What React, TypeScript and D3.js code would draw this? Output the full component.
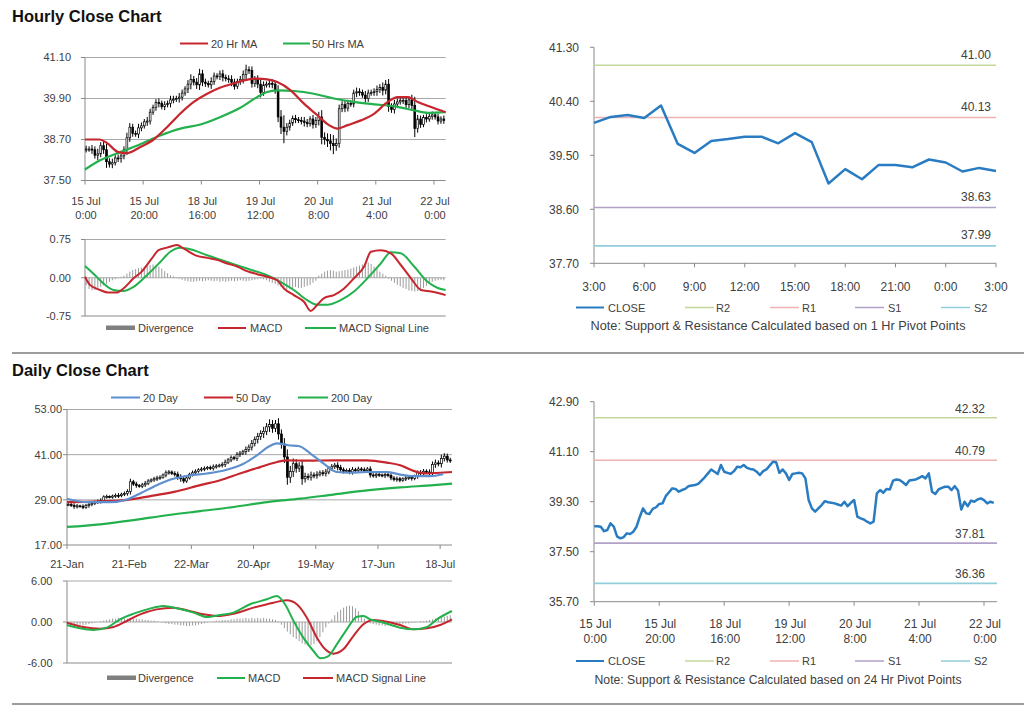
import React from 'react';
import * as d3 from 'd3';

// ---------------- DATA ----------------
const hourlyTickIdx = [0, 20, 40, 60, 80, 100, 120];
const hourlyTickDate = ['15 Jul', '15 Jul', '18 Jul', '19 Jul', '20 Jul', '21 Jul', '22 Jul'];
const hourlyTickTime = ['0:00', '20:00', '16:00', '12:00', '8:00', '4:00', '0:00'];

const hourlyClose = [
  38.42, 38.42, 38.40, 38.24, 38.28, 38.52, 38.40, 38.05, 37.98, 38.02,
  38.16, 38.14, 38.22, 38.40, 38.75, 39.06, 38.88, 38.86, 39.04, 39.10,
  39.22, 39.24, 39.50, 39.64, 39.78, 39.76, 39.66, 39.72, 39.76, 39.86,
  39.88, 39.90, 39.94, 40.06, 40.18, 40.32, 40.46, 40.38, 40.30, 40.62,
  40.38, 40.34, 40.30, 40.40, 40.56, 40.54, 40.62, 40.52, 40.48, 40.46,
  40.38, 40.26, 40.40, 40.46, 40.60, 40.74, 40.72, 40.34, 40.46, 40.32,
  40.08, 40.30, 40.32, 40.34, 40.32, 40.14, 39.36, 39.06, 38.94, 39.06,
  39.18, 39.32, 39.28, 39.26, 39.24, 39.20, 39.16, 39.30, 39.14, 39.26,
  39.36, 38.76, 38.70, 38.66, 38.58, 38.52, 38.58, 39.60, 39.72, 39.62,
  39.76, 39.74, 40.06, 40.10, 40.08, 40.00, 39.90, 40.06, 40.08, 40.10,
  40.16, 40.22, 40.14, 40.32, 39.66, 39.58, 39.74, 39.80, 39.84, 39.84,
  39.72, 39.86, 39.70, 39.02, 39.30, 39.14, 39.34, 39.30, 39.38, 39.42,
  39.36, 39.24, 39.30, 39.26,
];
const hourlyWick = [
  0.10, 0.08, 0.12, 0.10, 0.15, 0.10, 0.12, 0.18, 0.10, 0.12,
  0.08, 0.10, 0.12, 0.10, 0.15, 0.12, 0.10, 0.08, 0.12, 0.10,
  0.08, 0.12, 0.10, 0.08, 0.10, 0.12, 0.08, 0.10, 0.08, 0.12,
  0.10, 0.08, 0.12, 0.10, 0.08, 0.12, 0.15, 0.10, 0.12, 0.15,
  0.12, 0.10, 0.08, 0.12, 0.10, 0.08, 0.10, 0.12, 0.08, 0.10,
  0.12, 0.10, 0.08, 0.10, 0.12, 0.15, 0.10, 0.12, 0.10, 0.12,
  0.15, 0.10, 0.08, 0.10, 0.12, 0.10, 0.15, 0.20, 0.35, 0.12,
  0.10, 0.08, 0.10, 0.08, 0.10, 0.12, 0.10, 0.08, 0.12, 0.10,
  0.15, 0.20, 0.15, 0.18, 0.20, 0.25, 0.15, 0.12, 0.10, 0.12,
  0.10, 0.08, 0.10, 0.12, 0.10, 0.08, 0.12, 0.10, 0.08, 0.10,
  0.12, 0.10, 0.15, 0.12, 0.15, 0.10, 0.12, 0.10, 0.08, 0.10,
  0.12, 0.10, 0.15, 0.25, 0.12, 0.10, 0.08, 0.10, 0.08, 0.10,
  0.08, 0.10, 0.08, 0.10,
];
const hourlyMA20 = [
  [0, 38.70], [5, 38.70], [7.5, 38.60], [11.5, 38.33], [14.4, 38.30], [19, 38.48], [23.6, 38.70],
  [28.2, 39.06], [32.8, 39.46], [37.4, 39.80], [42, 40.04], [46.6, 40.22], [51.1, 40.34], [56.3, 40.46],
  [59.2, 40.48], [62.6, 40.46], [66.1, 40.38], [70.7, 40.14], [75.3, 39.75], [79.9, 39.41], [83.9, 39.12],
  [86.8, 39.02], [90.3, 39.12], [94.9, 39.26], [99.5, 39.46], [104.1, 39.80], [107.5, 39.94], [111, 39.94],
  [114.4, 39.80], [119, 39.65], [124, 39.50],
];
const hourlyMA50 = [
  [0, 37.82], [5.2, 38.09], [12.1, 38.33], [19, 38.56], [25.9, 38.82], [32.8, 39.02], [39.7, 39.14],
  [46.6, 39.36], [53.4, 39.63], [59.2, 39.94], [62.6, 40.09], [66.1, 40.14], [71.8, 40.12], [78.7, 40.04],
  [85.6, 39.90], [92.5, 39.80], [99.5, 39.73], [106.4, 39.67], [113.3, 39.55], [117.9, 39.48], [124, 39.50],
];
const hourlyMACD = [
  [0, 0.02], [1.7, -0.14], [5.2, -0.24], [8, -0.29], [10.9, -0.29], [13.2, -0.21], [16.7, -0.01],
  [19.5, 0.12], [23, 0.38], [25.3, 0.54], [28.2, 0.59], [31.6, 0.64], [34, 0.57], [38, 0.44], [42, 0.39],
  [45.4, 0.35], [48.9, 0.28], [52.3, 0.22], [55.7, 0.13], [59.2, 0.07], [62.6, 0.02], [66.1, -0.05],
  [68.4, -0.21], [71.8, -0.34], [75.3, -0.47], [77.6, -0.65], [79.9, -0.53], [82.2, -0.40], [85.6, -0.34],
  [89.1, -0.21], [92.5, -0.01], [96, 0.22], [98.3, 0.51], [101.7, 0.54], [105.2, 0.48], [108.6, 0.25],
  [112.1, -0.01], [115.5, -0.24], [119, -0.27], [124, -0.34],
];
const hourlySignal = [
  [0, 0.23], [2.9, 0.08], [6.3, -0.11], [9.8, -0.24], [13.2, -0.26], [16.7, -0.18], [21.3, 0.05],
  [25.9, 0.31], [29.3, 0.51], [32.8, 0.59], [36.2, 0.56], [42, 0.44], [48.9, 0.31], [55.7, 0.18],
  [62.6, 0.05], [67.2, -0.08], [71.8, -0.24], [76.4, -0.44], [79.9, -0.53], [83.3, -0.53], [87.9, -0.44],
  [92.5, -0.27], [97.1, -0.01], [101.7, 0.28], [105.2, 0.50], [108.6, 0.48], [113.2, 0.22], [117.8, -0.08],
  [121.3, -0.20], [124, -0.24],
];
const hourlyDivergence = [
  -0.15, -0.22, -0.25, -0.24, -0.22, -0.18, -0.15, -0.12, -0.08, -0.05, -0.03, -0.01,
  0.02, 0.04, 0.08, 0.12, 0.15, 0.17, 0.19, 0.20, 0.22, 0.24, 0.25, 0.26,
  0.25, 0.22, 0.18, 0.13, 0.09, 0.05, 0.03, 0.01, -0.02, -0.04, -0.06, -0.07,
  -0.08, -0.08, -0.07, -0.06, -0.07, -0.06, -0.05, -0.06, -0.07, -0.06, -0.08, -0.07,
  -0.08, -0.07, -0.06, -0.07, -0.06, -0.05, -0.06, -0.07, -0.06, -0.05, -0.04, -0.03,
  -0.02, -0.03, -0.05, -0.08, -0.10, -0.12, -0.15, -0.18, -0.20, -0.22, -0.22, -0.20,
  -0.18, -0.20, -0.20, -0.18, -0.16, -0.14, -0.10, -0.06, 0.04, 0.08, 0.12, 0.14,
  0.15, 0.14, 0.12, 0.13, 0.14, 0.15, 0.16, 0.18, 0.20, 0.22, 0.24, 0.26,
  0.28, 0.30, 0.27, 0.22, 0.17, 0.12, 0.08, 0.04, -0.02, -0.06, -0.10, -0.14,
  -0.17, -0.20, -0.22, -0.25, -0.26, -0.27, -0.26, -0.24, -0.20, -0.16, -0.12, -0.08,
  -0.06, -0.05, -0.04, -0.05,
];

const pivotHourLabels = ['3:00', '6:00', '9:00', '12:00', '15:00', '18:00', '21:00', '0:00', '3:00'];
const pivotHourClose = [
  40.04, 40.14, 40.17, 40.12, 40.33, 39.69, 39.54, 39.74, 39.77, 39.81, 39.81, 39.70, 39.87,
  39.72, 39.03, 39.27, 39.10, 39.34, 39.34, 39.30, 39.43, 39.38, 39.23, 39.29, 39.24,
];
const pivotNames = ['R2', 'R1', 'S1', 'S2'];
const hourlyPivots = [41.00, 40.13, 38.63, 37.99];
const dailyPivots = [42.32, 40.79, 37.81, 36.36];

const dailyTickIdx = [0, 21, 42, 63, 84, 105, 126];
const dailyTickLabels = ['21-Jan', '21-Feb', '22-Mar', '20-Apr', '19-May', '17-Jun', '18-Jul'];
const dailyClose = [
  27.8, 27.5, 27.2, 27.4, 27.3, 27.0, 27.5, 27.8, 28.0, 28.4,
  28.6, 28.8, 29.8, 29.9, 29.7, 30.0, 30.2, 30.1, 30.5, 30.7,
  31.2, 33.8, 33.2, 32.8, 32.6, 33.0, 33.4, 34.0, 34.3, 34.6,
  34.8, 35.0, 35.6, 36.2, 36.4, 36.0, 35.8, 35.0, 34.6, 34.0,
  34.8, 35.8, 36.2, 36.6, 37.0, 37.2, 37.3, 37.6, 37.4, 37.8,
  38.0, 38.2, 38.4, 39.0, 39.6, 40.2, 40.0, 41.0, 41.4, 41.8,
  42.4, 43.0, 44.0, 45.0, 45.8, 46.6, 47.2, 48.4, 49.0, 48.0,
  49.2, 46.5, 43.8, 40.4, 35.0, 36.5, 38.6, 37.4, 38.0, 34.6,
  35.2, 35.0, 35.6, 35.4, 35.8, 36.2, 36.0, 36.4, 37.4, 37.8,
  38.2, 37.6, 37.0, 36.6, 36.8, 36.4, 37.0, 36.8, 37.2, 37.0,
  36.8, 37.2, 35.6, 35.4, 35.8, 35.6, 35.4, 35.7, 35.5, 34.8,
  34.4, 34.6, 34.2, 34.6, 34.8, 35.0, 34.7, 35.2, 36.2, 36.0,
  36.6, 36.4, 36.2, 38.4, 38.8, 38.6, 40.0, 40.6, 39.6, 39.4,
];
const dailyWick = [
  0.5, 0.4, 0.6, 0.5, 0.3, 0.5, 0.4, 0.6, 0.5, 0.4,
  0.5, 0.6, 0.4, 0.5, 0.3, 0.4, 0.5, 0.6, 0.4, 0.5,
  0.6, 0.8, 0.5, 0.6, 0.4, 0.5, 0.6, 0.5, 0.4, 0.5,
  0.6, 0.5, 0.4, 0.6, 0.5, 0.4, 0.6, 0.7, 0.8, 0.6,
  0.5, 0.4, 0.6, 0.5, 0.4, 0.5, 0.6, 0.4, 0.5, 0.6,
  0.5, 0.4, 0.6, 0.7, 0.5, 0.6, 0.5, 0.7, 0.6, 0.5,
  0.8, 0.7, 0.9, 0.8, 1.0, 0.9, 1.2, 1.0, 1.4, 1.2,
  1.0, 1.5, 1.2, 1.6, 2.0, 1.5, 1.4, 1.2, 1.0, 1.6,
  1.0, 0.8, 0.9, 0.7, 0.8, 0.6, 0.7, 0.8, 0.6, 0.7,
  0.6, 0.8, 0.7, 0.6, 0.5, 0.6, 0.7, 0.5, 0.6, 0.5,
  0.6, 0.5, 0.7, 0.5, 0.6, 0.5, 0.4, 0.6, 0.5, 0.6,
  0.5, 0.6, 0.5, 0.4, 0.6, 0.5, 0.6, 0.5, 0.6, 0.7,
  0.6, 0.5, 0.7, 0.8, 0.9, 0.7, 1.0, 0.8, 0.7, 0.6,
];
const dailyMA20 = [
  [0, 29.3], [6.7, 28.4], [14.6, 28.4], [20.3, 29.1], [24.7, 30.7], [30.3, 32.9], [35.9, 34.6],
  [41.6, 35.5], [47.2, 36.0], [53.9, 37.0], [59.6, 38.6], [64.1, 40.8], [68, 43.1], [70.9, 44.0],
  [74.8, 43.5], [78.2, 43.3], [82.2, 41.3], [86.7, 38.6], [91.1, 36.4], [95.6, 36.2], [101.3, 36.4],
  [108, 36.4], [112.5, 35.7], [117, 35.3], [122.6, 35.3], [127, 35.8],
];
const dailyMA50 = [
  [0, 28.4], [11.2, 28.6], [20.3, 29.0], [28.2, 30.0], [36.1, 31.1], [45, 32.9], [51.7, 34.2],
  [58.4, 36.0], [65.2, 37.7], [69.7, 38.8], [74.2, 39.5], [81, 39.4], [90, 39.5], [101.3, 39.5],
  [108, 38.9], [112.5, 38.2], [117, 36.7], [121.5, 36.0], [126, 36.2], [130, 36.4],
];
const dailyMA200 = [
  [0, 21.8], [11.2, 22.5], [22.5, 23.6], [33.7, 24.9], [45, 26.0], [56.3, 27.1], [67.6, 28.4],
  [78.8, 29.3], [90, 30.4], [101.3, 31.5], [112.5, 32.3], [123.8, 32.9], [130, 33.3],
];
const dailyMACD = [
  [0, -0.44], [4.4, -0.93], [8.9, -1.17], [13.4, -0.83], [17.9, 0.39], [22.5, 1.22], [27, 1.85],
  [32.6, 2.34], [37.1, 2.0], [42.8, 1.37], [47.2, 0.73], [51.7, 1.02], [56.2, 1.37], [61.8, 2.59],
  [67.5, 3.32], [70.9, 3.8], [73.6, 2.59], [76.5, 0.15], [79.8, -2.29], [83.2, -4.24], [85.6, -5.32],
  [88.3, -4.98], [91.1, -3.27], [94.5, -1.07], [97.9, 0.78], [100.1, 0.88], [102.4, 0.39], [106.9, -0.1],
  [112.5, -0.83], [117, -1.07], [121.6, -0.73], [124.9, 0.39], [130, 1.61],
];
const dailySignal = [
  [0, -0.1], [5.5, -0.73], [11.2, -0.98], [15.7, -0.73], [20.2, 0.15], [24.7, 1.12], [30.3, 1.85],
  [36, 2.1], [40.4, 1.71], [46.1, 1.12], [50.6, 0.88], [56.2, 1.22], [63, 2.1], [69.7, 2.83],
  [74.2, 3.17], [77.6, 2.59], [81, 0.63], [84.4, -2.29], [87.2, -4.0], [90, -4.63], [93.3, -4.0],
  [96.7, -2.05], [100.1, -0.34], [103.5, 0.29], [108, 0.05], [112.5, -0.44], [117, -1.07],
  [121.6, -0.93], [126, -0.44], [130, 0.39],
];
const dailyDivergence = [
  -0.2, -0.3, -0.4, -0.5, -0.5, -0.5, -0.4, -0.3, -0.2, -0.1,
  0, 0.1, 0.2, 0.3, 0.4, 0.5, 0.5, 0.6, 0.6, 0.5,
  0.5, 0.6, 0.5, 0.5, 0.4, 0.4, 0.3, 0.3, 0.2, 0.2,
  0.1, 0, -0.1, -0.2, -0.3, -0.3, -0.4, -0.4, -0.5, -0.5,
  -0.6, -0.6, -0.5, -0.5, -0.4, -0.3, -0.2, -0.1, 0, 0.1,
  0.2, 0.2, 0.3, 0.3, 0.3, 0.4, 0.4, 0.5, 0.5, 0.5,
  0.6, 0.5, 0.6, 0.5, 0.6, 0.5, 0.6, 0.5, 0.5, 0.4,
  0.3, 0.1, -0.4, -0.9, -1.4, -1.8, -2.2, -2.5, -2.8, -3.1,
  -3.3, -3.5, -3.4, -3.2, -2.8, -2.2, -1.5, -0.8, -0.2, 0.4,
  1.0, 1.5, 1.8, 2.1, 2.3, 2.4, 2.3, 2.0, 1.6, 1.0,
  0.5, 0.1, -0.2, -0.3, -0.4, -0.5, -0.5, -0.6, -0.5, -0.5,
  -0.4, -0.4, -0.3, -0.3, -0.2, -0.2, -0.1, -0.1, 0, 0.1,
  0.1, 0.2, 0.3, 0.4, 0.5, 0.6, 0.7, 0.8, 0.9, 1.0,
];

const hourlyYTicks = [37.5, 38.7, 39.9, 41.1];
const hourlyMacdTicks = [-0.75, 0, 0.75];
const pivotHYTicks = [37.7, 38.6, 39.5, 40.4, 41.3];
const dailyYTicks = [17, 29, 41, 53];
const dailyMacdTicks = [-6, 0, 6];
const pivotDYTicks = [35.7, 37.5, 39.3, 41.1, 42.9];

// ---------------- STYLE ----------------
const FONT = "'Liberation Sans', Arial, Helvetica, sans-serif";
const TXT = '#404040';
const GRID = '#a8a8a8';
const AXIS = '#8a8a8a';
const RED = '#c6262d';
const GREEN = '#22b14c';
const BLUE20 = '#5e8fcf';
const CLOSE = '#2a7cc2';
const PIVOT_COLORS = ['#c4d79b', '#efb2b2', '#b2a1c7', '#92cddc'];

type Sc = d3.ScaleLinear<number, number>;

const f2 = (v: number) => v.toFixed(2);

function mkLine(x: Sc, y: Sc, curve: any = d3.curveLinear) {
  return d3.line<number[]>().x((d) => x(d[0])).y((d) => y(d[1])).curve(curve);
}

function YAxis({ x, y, ticks, fmt, labelEnd, fs, grid, gridEnd }: any) {
  const [r0, r1] = y.range();
  return (
    <g>
      {grid &&
        ticks.map((t: number, i: number) =>
          i === 0 ? null : (
            <line key={'g' + i} x1={x} x2={gridEnd} y1={y(t)} y2={y(t)} stroke={GRID} strokeWidth={1} />
          )
        )}
      <line x1={x} x2={x} y1={r0} y2={r1} stroke={AXIS} strokeWidth={1} />
      {ticks.map((t: number, i: number) => (
        <g key={i}>
          <line x1={x - 4} x2={x} y1={y(t)} y2={y(t)} stroke={AXIS} />
          <text x={labelEnd} y={y(t) + fs * 0.36} textAnchor="end" fontSize={fs} fill={TXT} fontFamily={FONT}>
            {fmt(t)}
          </text>
        </g>
      ))}
    </g>
  );
}

function XAxisLine({ x, yPos, idx }: any) {
  const [r0, r1] = x.range();
  return (
    <g>
      <line x1={r0} x2={r1} y1={yPos} y2={yPos} stroke={AXIS} strokeWidth={1} />
      {idx.map((t: number, i: number) => (
        <line key={i} x1={x(t)} x2={x(t)} y1={yPos} y2={yPos + 4} stroke={AXIS} />
      ))}
    </g>
  );
}

function Candles({ closes, wicks, x, y, w, dx }: any) {
  return (
    <g>
      {closes.map((c: number, i: number) => {
        const o = i === 0 ? c : closes[i - 1];
        const hi = Math.max(o, c) + wicks[i];
        const lo = Math.min(o, c) - wicks[i];
        const top = y(Math.max(o, c));
        const bot = y(Math.min(o, c));
        const cx = x(i + dx);
        return (
          <g key={i}>
            <line x1={cx} x2={cx} y1={y(hi)} y2={y(lo)} stroke="#000" strokeWidth={1} />
            <rect
              x={cx - w / 2}
              y={top}
              width={w}
              height={Math.max(bot - top, 1)}
              fill={c >= o ? '#fff' : '#000'}
              stroke="#000"
              strokeWidth={0.7}
            />
          </g>
        );
      })}
    </g>
  );
}

function Hist({ vals, x, y, dx }: any) {
  return (
    <g>
      {vals.map((v: number, i: number) => (
        <line key={i} x1={x(i + dx)} x2={x(i + dx)} y1={y(0)} y2={y(v)} stroke="#9a9a9a" strokeWidth={1} />
      ))}
    </g>
  );
}

function LegendLine({ x1, x2, y, color, label, tx, w = 2 }: any) {
  return (
    <g>
      <line x1={x1} x2={x2} y1={y} y2={y} stroke={color} strokeWidth={w} />
      <text x={tx} y={y + 4} fontSize={11} fill={TXT} fontFamily={FONT}>
        {label}
      </text>
    </g>
  );
}

function PivotLegend({ y, noteY, note, noteLen }: any) {
  const items = [
    { x1: 576, x2: 604, tx: 608, c: CLOSE, l: 'CLOSE', w: 2 },
    { x1: 685, x2: 714, tx: 716, c: PIVOT_COLORS[0], l: pivotNames[0], w: 1.5 },
    { x1: 770, x2: 799, tx: 802, c: PIVOT_COLORS[1], l: pivotNames[1], w: 1.5 },
    { x1: 855, x2: 884, tx: 888, c: PIVOT_COLORS[2], l: pivotNames[2], w: 1.5 },
    { x1: 941, x2: 970, tx: 974, c: PIVOT_COLORS[3], l: pivotNames[3], w: 1.5 },
  ];
  return (
    <g>
      {items.map((it, i) => (
        <LegendLine key={i} x1={it.x1} x2={it.x2} y={y} color={it.c} label={it.l} tx={it.tx} w={it.w} />
      ))}
      <text
        x={778}
        y={noteY}
        textAnchor="middle"
        fontSize={12}
        fill={TXT}
        fontFamily={FONT}
        textLength={noteLen}
        lengthAdjust="spacingAndGlyphs"
      >
        {note}
      </text>
    </g>
  );
}

export default function App() {
  // Panel 1: hourly candles
  const x1 = d3.scaleLinear().domain([0, 124]).range([85, 445.6]);
  const y1 = d3.scaleLinear().domain([37.5, 41.1]).range([180.5, 57.5]);
  // Panel 2: hourly MACD
  const y2 = d3.scaleLinear().domain([-0.75, 0.75]).range([316, 239.5]);
  // Panel 3: 24 hr pivots
  const x3 = d3.scaleLinear().domain([0, 24]).range([594, 996]);
  const y3 = d3.scaleLinear().domain([37.7, 41.3]).range([263.3, 47.3]);
  // Panel 4: daily
  const x4 = d3.scaleLinear().domain([0, 130]).range([67, 452]);
  const y4 = d3.scaleLinear().domain([17, 53]).range([545, 409.5]);
  // Panel 5: daily MACD
  const y5 = d3.scaleLinear().domain([-6, 6]).range([663, 581]);
  // Panel 6: hourly close with 24h pivots
  const x6 = d3.scaleLinear().domain([0, 124]).range([594.3, 997]);
  const y6 = d3.scaleLinear().domain([35.7, 42.9]).range([601.7, 401.7]);

  const smooth = d3.curveMonotoneX;

  return (
    <svg
      width={1024}
      height={706}
      style={{ position: 'absolute', left: 0, top: 0, background: '#fff' }}
      fontFamily={FONT}
    >
      <rect x={0} y={0} width={1024} height={706} fill="#fff" />

      {/* Titles and dividers */}
      <text x={12} y={21.5} fontSize={16.5} fontWeight="bold" fill="#111">
        Hourly Close Chart
      </text>
      <line x1={12} x2={1024} y1={353} y2={353} stroke="#9c9c9c" strokeWidth={2} />
      <text x={12} y={376} fontSize={16.5} fontWeight="bold" fill="#111">
        Daily Close Chart
      </text>
      <line x1={12} x2={1024} y1={704} y2={704} stroke="#9c9c9c" strokeWidth={2} />

      {/* ---------- Panel 1 ---------- */}
      <YAxis x={85} y={y1} ticks={hourlyYTicks} fmt={f2} labelEnd={71} fs={11} grid gridEnd={445.6} />
      <XAxisLine x={x1} yPos={180.5} idx={hourlyTickIdx} />
      {hourlyTickIdx.map((t, i) => (
        <g key={i}>
          <text x={x1(t) + 1} y={205} textAnchor="middle" fontSize={11} fill={TXT}>
            {hourlyTickDate[i]}
          </text>
          <text x={x1(t) + 1} y={219} textAnchor="middle" fontSize={11} fill={TXT}>
            {hourlyTickTime[i]}
          </text>
        </g>
      ))}
      <Candles closes={hourlyClose} wicks={hourlyWick} x={x1} y={y1} w={1.8} dx={0.4} />
      <path d={mkLine(x1, y1, smooth)(hourlyMA50) || ''} fill="none" stroke={GREEN} strokeWidth={2.2} />
      <path d={mkLine(x1, y1, smooth)(hourlyMA20) || ''} fill="none" stroke={RED} strokeWidth={2.2} />
      <LegendLine x1={180} x2={208} y={43.5} color={RED} label="20 Hr MA" tx={211} />
      <LegendLine x1={283} x2={310} y={43.5} color={GREEN} label="50 Hrs MA" tx={312} />

      {/* ---------- Panel 2 ---------- */}
      <YAxis x={85} y={y2} ticks={hourlyMacdTicks} fmt={f2} labelEnd={71} fs={11} grid gridEnd={445.6} />
      <line x1={85} x2={445.6} y1={316} y2={316} stroke={AXIS} />
      <Hist vals={hourlyDivergence} x={x1} y={y2} dx={0.4} />
      <path d={mkLine(x1, y2, smooth)(hourlySignal) || ''} fill="none" stroke={GREEN} strokeWidth={2} />
      <path d={mkLine(x1, y2, smooth)(hourlyMACD) || ''} fill="none" stroke={RED} strokeWidth={2} />
      <rect x={106} y={325.5} width={29} height={4.5} fill="#7f7f7f" />
      <text x={138} y={332} fontSize={11} fill={TXT}>
        Divergence
      </text>
      <LegendLine x1={218} x2={246} y={328} color={RED} label="MACD" tx={250} />
      <LegendLine x1={305} x2={336} y={328} color={GREEN} label="MACD  Signal Line" tx={339} />

      {/* ---------- Panel 3 ---------- */}
      <YAxis x={594} y={y3} ticks={pivotHYTicks} fmt={f2} labelEnd={579} fs={12} />
      <XAxisLine x={x3} yPos={263.3} idx={pivotHourLabels.map((_, i) => i * 3)} />
      {pivotHourLabels.map((l, i) => (
        <text key={i} x={x3(i * 3)} y={290.5} textAnchor="middle" fontSize={12} fill={TXT}>
          {l}
        </text>
      ))}
      {hourlyPivots.map((v, i) => (
        <g key={i}>
          <line x1={594} x2={996} y1={y3(v)} y2={y3(v)} stroke={PIVOT_COLORS[i]} strokeWidth={1.6} />
          <text x={991} y={y3(v) - 6.5} textAnchor="end" fontSize={12} fill={TXT}>
            {f2(v)}
          </text>
        </g>
      ))}
      <path
        d={mkLine(x3, y3)(pivotHourClose.map((v, i) => [i, v])) || ''}
        fill="none"
        stroke={CLOSE}
        strokeWidth={2.5}
        strokeLinejoin="round"
      />
      <PivotLegend
        y={307.5}
        noteY={330}
        note="Note: Support & Resistance Calculated based on 1 Hr Pivot Points"
        noteLen={375}
      />

      {/* ---------- Panel 4 ---------- */}
      <YAxis x={67} y={y4} ticks={dailyYTicks} fmt={f2} labelEnd={62} fs={11} grid gridEnd={452} />
      <XAxisLine x={x4} yPos={545} idx={dailyTickIdx} />
      {dailyTickIdx.map((t, i) => (
        <text key={i} x={x4(t)} y={568} textAnchor="middle" fontSize={11} fill={TXT}>
          {dailyTickLabels[i]}
        </text>
      ))}
      <path d={mkLine(x4, y4, smooth)(dailyMA200) || ''} fill="none" stroke={GREEN} strokeWidth={2.2} />
      <Candles closes={dailyClose} wicks={dailyWick} x={x4} y={y4} w={2} dx={0.4} />
      <path d={mkLine(x4, y4, smooth)(dailyMA50) || ''} fill="none" stroke={RED} strokeWidth={2.2} />
      <path d={mkLine(x4, y4, smooth)(dailyMA20) || ''} fill="none" stroke={BLUE20} strokeWidth={2.2} />
      <LegendLine x1={111} x2={140} y={397.5} color={BLUE20} label="20 Day" tx={143} />
      <LegendLine x1={204} x2={233} y={397.5} color={RED} label="50 Day" tx={236} />
      <LegendLine x1={298} x2={328} y={397.5} color={GREEN} label="200 Day" tx={331} />

      {/* ---------- Panel 5 ---------- */}
      <YAxis x={67} y={y5} ticks={dailyMacdTicks} fmt={f2} labelEnd={52.5} fs={11} grid gridEnd={452} />
      <line x1={67} x2={452} y1={663} y2={663} stroke={AXIS} />
      <Hist vals={dailyDivergence} x={x4} y={y5} dx={0.4} />
      <path d={mkLine(x4, y5, smooth)(dailySignal) || ''} fill="none" stroke={RED} strokeWidth={2} />
      <path d={mkLine(x4, y5, smooth)(dailyMACD) || ''} fill="none" stroke={GREEN} strokeWidth={2} />
      <rect x={107} y={675.5} width={29} height={4.5} fill="#7f7f7f" />
      <text x={138} y={682} fontSize={11} fill={TXT}>
        Divergence
      </text>
      <LegendLine x1={217} x2={245} y={678} color={GREEN} label="MACD" tx={248} />
      <LegendLine x1={303} x2={333} y={678} color={RED} label="MACD Signal Line" tx={336} />

      {/* ---------- Panel 6 ---------- */}
      <YAxis x={594} y={y6} ticks={pivotDYTicks} fmt={f2} labelEnd={579} fs={12} />
      <XAxisLine x={x6} yPos={601.7} idx={hourlyTickIdx} />
      {hourlyTickIdx.map((t, i) => (
        <g key={i}>
          <text x={x6(t) + 1} y={628} textAnchor="middle" fontSize={12} fill={TXT}>
            {hourlyTickDate[i]}
          </text>
          <text x={x6(t) + 1} y={643} textAnchor="middle" fontSize={12} fill={TXT}>
            {hourlyTickTime[i]}
          </text>
        </g>
      ))}
      {dailyPivots.map((v, i) => (
        <g key={i}>
          <line x1={594} x2={997} y1={y6(v)} y2={y6(v)} stroke={PIVOT_COLORS[i]} strokeWidth={1.6} />
          <text x={985} y={y6(v) - 5} textAnchor="end" fontSize={12} fill={TXT}>
            {f2(v)}
          </text>
        </g>
      ))}
      <path
        d={mkLine(x6, y6)(hourlyClose.map((v, i) => [i, v])) || ''}
        fill="none"
        stroke={CLOSE}
        strokeWidth={2.5}
        strokeLinejoin="round"
      />
      <PivotLegend
        y={661}
        noteY={684}
        note="Note: Support & Resistance Calculated based on 24 Hr Pivot Points"
        noteLen={367}
      />
    </svg>
  );
}
